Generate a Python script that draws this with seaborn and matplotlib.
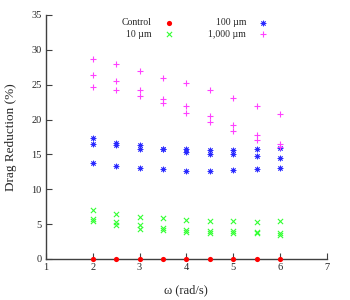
import numpy as np
import pandas as pd
import matplotlib
matplotlib.use("Agg")
import matplotlib.pyplot as plt
import seaborn as sns

# angular velocity (rad/s)
omega = [2.0, 2.5, 3.0, 3.5, 4.0, 4.5, 5.0, 5.5, 6.0]

# drag reduction (%), three runs per groove depth
control = [0, 0, 0, 0, 0, 0, 0, 0, 0]
dr_10_a = [7.0, 6.5, 6.0, 5.8, 5.6, 5.4, 5.4, 5.3, 5.4]
dr_10_b = [5.7, 5.35, 4.8, 4.5, 4.2, 4.0, 4.0, 3.9, 3.7]
dr_10_c = [5.45, 4.9, 4.3, 4.1, 3.8, 3.7, 3.7, 3.7, 3.5]
dr_100_a = [17.3, 16.7, 16.3, 15.8, 15.7, 15.6, 15.6, 15.7, 15.9]
dr_100_b = [16.5, 16.3, 15.8, 15.8, 15.3, 15.0, 15.0, 14.8, 14.5]
dr_100_c = [13.7, 13.4, 13.1, 12.9, 12.6, 12.6, 12.7, 12.9, 13.0]
dr_1000_a = [28.7, 27.9, 27.0, 25.9, 25.2, 24.2, 23.1, 22.0, 20.8]
dr_1000_b = [26.4, 25.6, 24.2, 23.0, 21.9, 20.5, 19.2, 17.8, 16.5]
dr_1000_c = [24.7, 24.2, 23.4, 22.4, 20.9, 19.6, 18.4, 17.1, 16.0]

labels = ["Control", "10 \u00b5m", "100 \u00b5m", "1,000 \u00b5m"]
colors = ["#ff0000", "#33ff33", "#2a2aff", "#ff40ff"]

runs = {
    labels[0]: [control],
    labels[1]: [dr_10_a, dr_10_b, dr_10_c],
    labels[2]: [dr_100_a, dr_100_b, dr_100_c],
    labels[3]: [dr_1000_a, dr_1000_b, dr_1000_c],
}

rows = []
for lab, series in runs.items():
    for s in series:
        for w, v in zip(omega, s):
            rows.append({"omega": w, "dr": v, "group": lab})
df = pd.DataFrame(rows)

sns.set_style("ticks")
plt.rcParams["font.family"] = ["Liberation Serif", "DejaVu Serif"]

fig = plt.figure(figsize=(3.5, 3.0), dpi=100)
ax = fig.add_axes([0.131, 0.137, 0.803, 0.813])

marker_specs = {
    labels[0]: dict(marker="o", s=14, linewidth=0),
    labels[1]: dict(marker="x", s=14, linewidth=0.8),
    labels[2]: dict(marker=(8, 2, 0), s=13, linewidth=0.6),
    labels[3]: dict(marker="+", s=22, linewidth=0.8),
}

for lab, col in zip(labels, colors):
    sub = df[df["group"] == lab]
    sns.scatterplot(data=sub, x="omega", y="dr", color=col, label=lab,
                    ax=ax, clip_on=False, zorder=3, **marker_specs[lab])

ax.set_xlim(1, 7)
ax.set_ylim(0, 35)
ax.set_xticks(range(1, 8))
ax.set_yticks(range(0, 36, 5))
ax.tick_params(direction="in", length=4, width=0.8, labelsize=7.5, color="#404040", pad=3)
for side in ["top", "right"]:
    ax.spines[side].set_visible(False)
for side in ["left", "bottom"]:
    ax.spines[side].set_color("#404040")
    ax.spines[side].set_linewidth(1.0)

ax.set_xlabel("\u03c9 (rad/s)", fontsize=9, labelpad=9)
ax.set_ylabel("Drag Reduction (%)", fontsize=9.5, labelpad=10)

ax.legend(ncol=2, markerfirst=False, frameon=False, fontsize=7,
          loc="upper center", bbox_to_anchor=(0.53, 1.01),
          handlelength=1.0, handletextpad=1.25, columnspacing=3.6,
          labelspacing=0.25, borderaxespad=0.2)

fig.savefig("out.png", dpi=100)
